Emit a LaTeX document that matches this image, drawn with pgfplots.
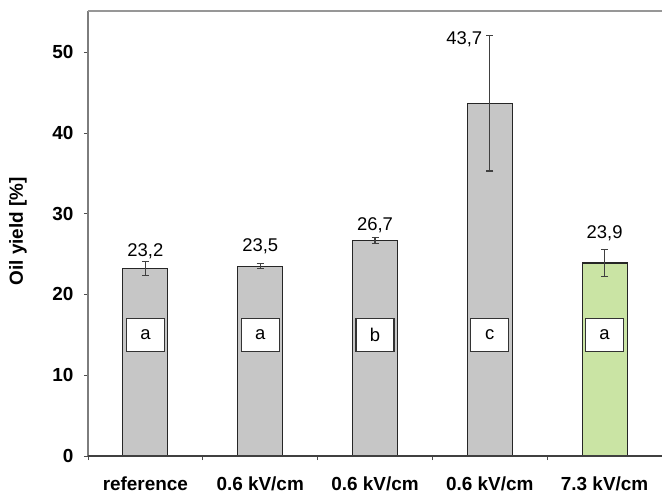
\documentclass[border=0pt]{standalone}
\usepackage{fontspec}
\setmainfont{Liberation Sans}
\usepackage{pgfplots}
\pgfplotsset{compat=1.18}

\definecolor{bargray}{RGB}{198,198,198}
\definecolor{bargreen}{RGB}{202,228,164}
\definecolor{framegray}{RGB}{125,125,125}

\newcommand{\lblfont}{\fontsize{19}{22}\selectfont}
\newcommand{\valfont}{\fontsize{18.5}{22}\selectfont}

% oil yield per treatment: position, mean, standard deviation
\pgfplotstableread{
x y e
0 23.2 0.85
1 23.5 0.30
2 26.7 0.35
3 43.7 8.40
}\greydata
\pgfplotstableread{
x y e
4 23.9 1.70
}\greendata

\tikzset{grp/.style={draw=black!80, fill=white, line width=1.3bp, minimum width=38bp,
        minimum height=33bp, inner sep=0pt, font=\valfont}}

\begin{document}
\begin{tikzpicture}
\begin{axis}[
  scale only axis,
  width=574bp, height=445bp,
  xmin=-0.5, xmax=4.5,
  ymin=0, ymax=55.1,
  ytick={0,10,...,50},
  xtick={0,...,4},
  xticklabels={reference, 0.6 kV/cm, 0.6 kV/cm, 0.6 kV/cm, 7.3 kV/cm},
  minor xtick={-0.5,0.5,...,3.5},
  major x tick style={draw=none},
  tick align=outside,
  tick pos=left,
  major tick length=4bp,
  minor tick length=4bp,
  every tick/.style={black!70, line width=0.8bp},
  axis line style={draw=none},
  /pgf/number format/assume math mode=true,
  ticklabel style={font=\lblfont\bfseries},
  yticklabel style={xshift=-7bp},
  xticklabel style={yshift=-13bp},
  ylabel={Oil yield [\%]},
  ylabel style={font=\lblfont\bfseries, at={(axis description cs:-0.122,0.505)}, anchor=center},
  clip=false,
  error bars/error bar style={line width=1.2bp, black!75},
  error bars/error mark options={rotate=90, mark size=3.5bp, line width=1.2bp, black!75},
]
\addplot[ybar, bar width=45bp, bar shift=0pt, fill=bargray, draw=black!85, line width=1.1bp,
  error bars/.cd, y dir=both, y explicit]
  table[x=x, y=y, y error=e] {\greydata};
\addplot[ybar, bar width=45bp, bar shift=0pt, fill=bargreen, draw=black!85, line width=1.1bp,
  error bars/.cd, y dir=both, y explicit]
  table[x=x, y=y, y error=e] {\greendata};

% frame: left, top and bottom only
\draw[framegray, line width=1.4bp] (rel axis cs:0,0) -- (rel axis cs:0,1);
\draw[framegray!80, line width=2bp] (rel axis cs:0,1) -- (rel axis cs:1,1);
\draw[black!75, line width=1.2bp] (rel axis cs:0,0) -- (rel axis cs:1,0);

% mean values
\node[font=\valfont] at (axis cs:0,25.4) {23,2};
\node[font=\valfont] at (axis cs:1,26.0) {23,5};
\node[font=\valfont] at (axis cs:2,28.6) {26,7};
\node[font=\valfont, anchor=east, inner sep=0pt] at (axis cs:2.935,51.6) {43,7};
\node[font=\valfont] at (axis cs:4,27.6) {23,9};

% significance groups
\node[grp] at (axis cs:0,15) {a};
\node[grp] at (axis cs:1,15) {a};
\node[grp] at (axis cs:2,15) {b};
\node[grp] at (axis cs:3,15) {c};
\node[grp] at (axis cs:4,15) {a};

\coordinate (bl) at (rel axis cs:0,0);
\coordinate (tr) at (rel axis cs:1,1);
\end{axis}
\pgfresetboundingbox
\path[use as bounding box] ([shift={(-88bp,-37bp)}]bl) rectangle ([shift={(0,11bp)}]tr);
\end{tikzpicture}
\end{document}
